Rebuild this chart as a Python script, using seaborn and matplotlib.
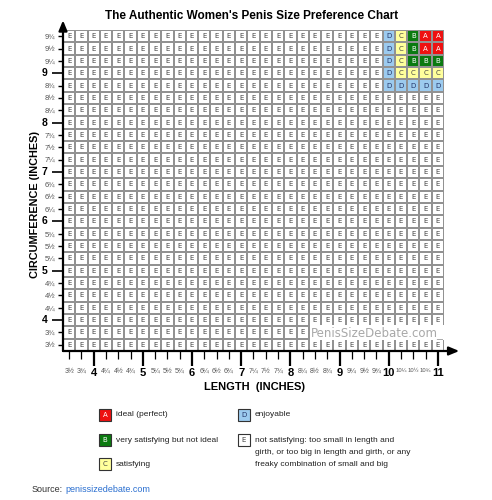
import numpy as np
import pandas as pd
import matplotlib
matplotlib.use("Agg")
import matplotlib.pyplot as plt
from matplotlib.colors import ListedColormap
from matplotlib.patches import Rectangle
import seaborn as sns

# ---------------- data ----------------
lengths = [3.5, 3.75, 4, 4.25, 4.5, 4.75, 5, 5.25, 5.5, 5.75, 6, 6.25, 6.5, 6.75,
           7, 7.25, 7.5, 7.75, 8, 8.25, 8.5, 8.75, 9, 9.25, 9.5, 9.75, 10, 10.25,
           10.5, 10.75, 11]
girths = [9.75, 9.5, 9.25, 9, 8.75, 8.5, 8.25, 8, 7.75, 7.5, 7.25, 7, 6.75, 6.5,
          6.25, 6, 5.75, 5.5, 5.25, 5, 4.75, 4.5, 4.25, 4, 3.75, 3.5]
# graded region (all other cells are "E")
graded_girths = [9.75, 9.5, 9.25, 9, 8.75]
graded_lengths = [10, 10.25, 10.5, 10.75, 11]
graded_letters = [["D", "C", "B", "A", "A"],
                  ["D", "C", "B", "A", "A"],
                  ["D", "C", "B", "B", "B"],
                  ["D", "C", "C", "C", "C"],
                  ["D", "D", "D", "D", "D"]]
default_letter = "E"
grade_order = ["A", "B", "C", "D", "E"]
grade_colors = ["#ee1111", "#0b7a10", "#ffff9c", "#9ccbef", "#ffffff"]
letter_colors = {"A": "white", "B": "white", "C": "#444444", "D": "#223366", "E": "#444444"}
legend_lines = {
    "A": ["ideal (perfect)"],
    "B": ["very satisfying but not ideal"],
    "C": ["satisfying"],
    "D": ["enjoyable"],
    "E": ["not satisfying: too small in length and",
          "girth, or too big in length and girth, or any",
          "freaky combination of small and big"],
}

# ---------------- build table ----------------
letters = pd.DataFrame(default_letter, index=girths, columns=lengths)
for gi, g in enumerate(graded_girths):
    for li, l in enumerate(graded_lengths):
        letters.loc[g, l] = graded_letters[gi][li]
codes = letters.apply(lambda col: col.map(grade_order.index))

# ---------------- figure ----------------
W, H = 492, 500
fig = plt.figure(figsize=(W / 100, H / 100), dpi=100)
plt.rcParams["font.family"] = ["Liberation Sans", "DejaVu Sans"]

def fx(px):
    return px / W

def fy(py):
    return 1 - py / H

left, right, top, bottom = 63, 444, 30, 351
ax = fig.add_axes([fx(left), fy(bottom), fx(right - left), (bottom - top) / H])

sns.heatmap(codes, ax=ax, cmap=ListedColormap(grade_colors), vmin=-0.5, vmax=4.5,
            cbar=False, annot=letters.values, fmt="", linewidths=1.1,
            linecolor="#929292", annot_kws={"fontsize": 5, "family": "DejaVu Sans"})
for t in ax.texts:
    t.set_color(letter_colors.get(t.get_text(), "#444444"))


def frac(v):
    whole = int(v)
    rem = v - whole
    sym = {0.25: "\u00bc", 0.5: "\u00bd", 0.75: "\u00be"}
    return str(whole) if rem == 0 else f"{whole}{sym[rem]}"

# x ticks
xmaj = [i + 0.5 for i, v in enumerate(lengths) if v == int(v)]
xmaj_lab = [frac(v) for v in lengths if v == int(v)]
xmin = [i + 0.5 for i, v in enumerate(lengths) if v != int(v)]
xmin_lab = [frac(v) for v in lengths if v != int(v)]
ax.set_xticks(xmaj, xmaj_lab)
ax.set_xticks(xmin, xmin_lab, minor=True)
ax.tick_params(axis="x", which="major", length=11, width=1.6, pad=1, labelsize=8,
               colors="black", labelrotation=0)
ax.tick_params(axis="x", which="minor", length=6, width=0.9, pad=6, labelsize=5,
               labelcolor="#555555", color="black", labelrotation=0)
for lab in ax.get_xticklabels():
    lab.set_fontweight("bold")
for lab in ax.get_xticklabels(minor=True):
    if lab.get_text().startswith("10"):
        lab.set_fontsize(4.2)

# y ticks
ymaj = [i + 0.5 for i, v in enumerate(girths) if v == int(v)]
ymaj_lab = [frac(v) for v in girths if v == int(v)]
ymin = [i + 0.5 for i, v in enumerate(girths) if v != int(v)]
ymin_lab = [frac(v) for v in girths if v != int(v)]
ax.set_yticks(ymaj, ymaj_lab)
ax.set_yticks(ymin, ymin_lab, minor=True)
ax.tick_params(axis="y", which="major", length=8, width=1.2, pad=3, labelsize=7.5,
               colors="black", labelrotation=0)
ax.tick_params(axis="y", which="minor", length=3.5, width=1.0, pad=2, labelsize=5.5,
               labelcolor="#555555", color="black", labelrotation=0)
for lab in ax.get_yticklabels():
    lab.set_fontweight("bold")

ax.set_xlabel("")
ax.set_ylabel("")

# axes with arrows
ax.annotate("", xy=(1.04, 0), xytext=(0, 0), xycoords="axes fraction",
            textcoords="axes fraction",
            arrowprops=dict(arrowstyle="-|>,head_length=0.6,head_width=0.25",
                            color="black", lw=1.6, shrinkA=0, shrinkB=0),
            annotation_clip=False)
ax.annotate("", xy=(0, 1.03), xytext=(0, 0), xycoords="axes fraction",
            textcoords="axes fraction",
            arrowprops=dict(arrowstyle="-|>,head_length=0.6,head_width=0.25",
                            color="black", lw=1.6, shrinkA=0, shrinkB=0),
            annotation_clip=False)

# watermark
ax.text(len(lengths) - 0.05, len(girths) - 1.5, "PenisSizeDebate.com_",
        ha="right", va="center", fontsize=8.5, color="#a8a8a8", family="DejaVu Sans",
        bbox=dict(facecolor="white", edgecolor="none", pad=0.6))

# titles
fig.text(fx(252), fy(16), "The Authentic Women's Penis Size Preference Chart",
         ha="center", va="center", fontsize=8.5, fontweight="bold")
fig.text(fx(255), fy(387), "LENGTH  (INCHES)", ha="center", va="center",
         fontsize=8, fontweight="bold")
fig.text(fx(35), fy(205), "CIRCUMFERENCE (INCHES)", ha="center", va="center",
         rotation=90, fontsize=7.8, fontweight="bold")

# legend
legend_pos = {"A": (105, 415), "B": (105, 440), "C": (105, 464),
              "D": (244, 415), "E": (244, 440)}
bw, bh = 12, 12
for k, (cx, cy) in legend_pos.items():
    ci = grade_order.index(k)
    fig.patches.append(Rectangle((fx(cx - bw / 2), fy(cy + bh / 2)), bw / W, bh / H,
                                 transform=fig.transFigure, facecolor=grade_colors[ci],
                                 edgecolor="#333333", lw=0.8))
    fig.text(fx(cx), fy(cy), k, ha="center", va="center", fontsize=5,
             color=letter_colors[k], family="DejaVu Sans")
    for j, line in enumerate(legend_lines[k]):
        fig.text(fx(cx + 11), fy(cy + 12.2 * j), line, ha="left", va="center",
                 fontsize=6, color="#222222")

fig.text(fx(32), fy(490), "Source:", ha="left", va="center", fontsize=6.5, color="#333333")
fig.text(fx(65), fy(490), "penissizedebate.com", ha="left", va="center", fontsize=6.5,
         color="#2a6fd0")

fig.savefig("out.png", dpi=100)
